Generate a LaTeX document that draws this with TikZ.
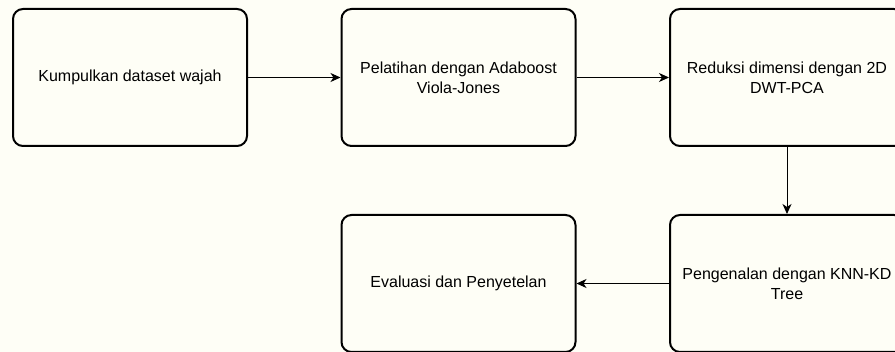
\documentclass[tikz,border=0pt]{standalone}
\usepackage{fontspec}
\setmainfont{Liberation Sans}
\usetikzlibrary{arrows.meta}
\definecolor{bgcol}{RGB}{254,254,246}
\tikzset{
  stepbox/.style={draw=black, line width=2pt, rounded corners=10pt, fill=bgcol,
    minimum width=234pt, minimum height=137pt, align=center, inner sep=0pt,
    font=\fontsize{16}{19.6}\selectfont},
  conn/.style={line width=1pt, -{Stealth[length=10pt, width=9pt, inset=3pt]}}
}
\begin{document}
\begin{tikzpicture}[x=1pt, y=-1pt]
\useasboundingbox (0,0) rectangle (895,352);
\fill[bgcol] (0,0) rectangle (895,352);
\clip (0,0) rectangle (895,352);
\node[stepbox] (b1) at (130,77.5) {Kumpulkan dataset wajah};
\node[stepbox] (b2) at (458.5,77.5) {Pelatihan dengan Adaboost\\Viola-Jones};
\node[stepbox] (b3) at (787,77.5) {Reduksi dimensi dengan 2D\\DWT-PCA};
\node[stepbox] (b4) at (458.5,283.5) {Evaluasi dan Penyetelan};
\node[stepbox] (b5) at (787,283.5) {Pengenalan dengan KNN-KD\\Tree};
\draw[conn] (b1) -- (b2);
\draw[conn] (b2) -- (b3);
\draw[conn] (b3) -- (b5);
\draw[conn] (b5) -- (b4);
\end{tikzpicture}
\end{document}
